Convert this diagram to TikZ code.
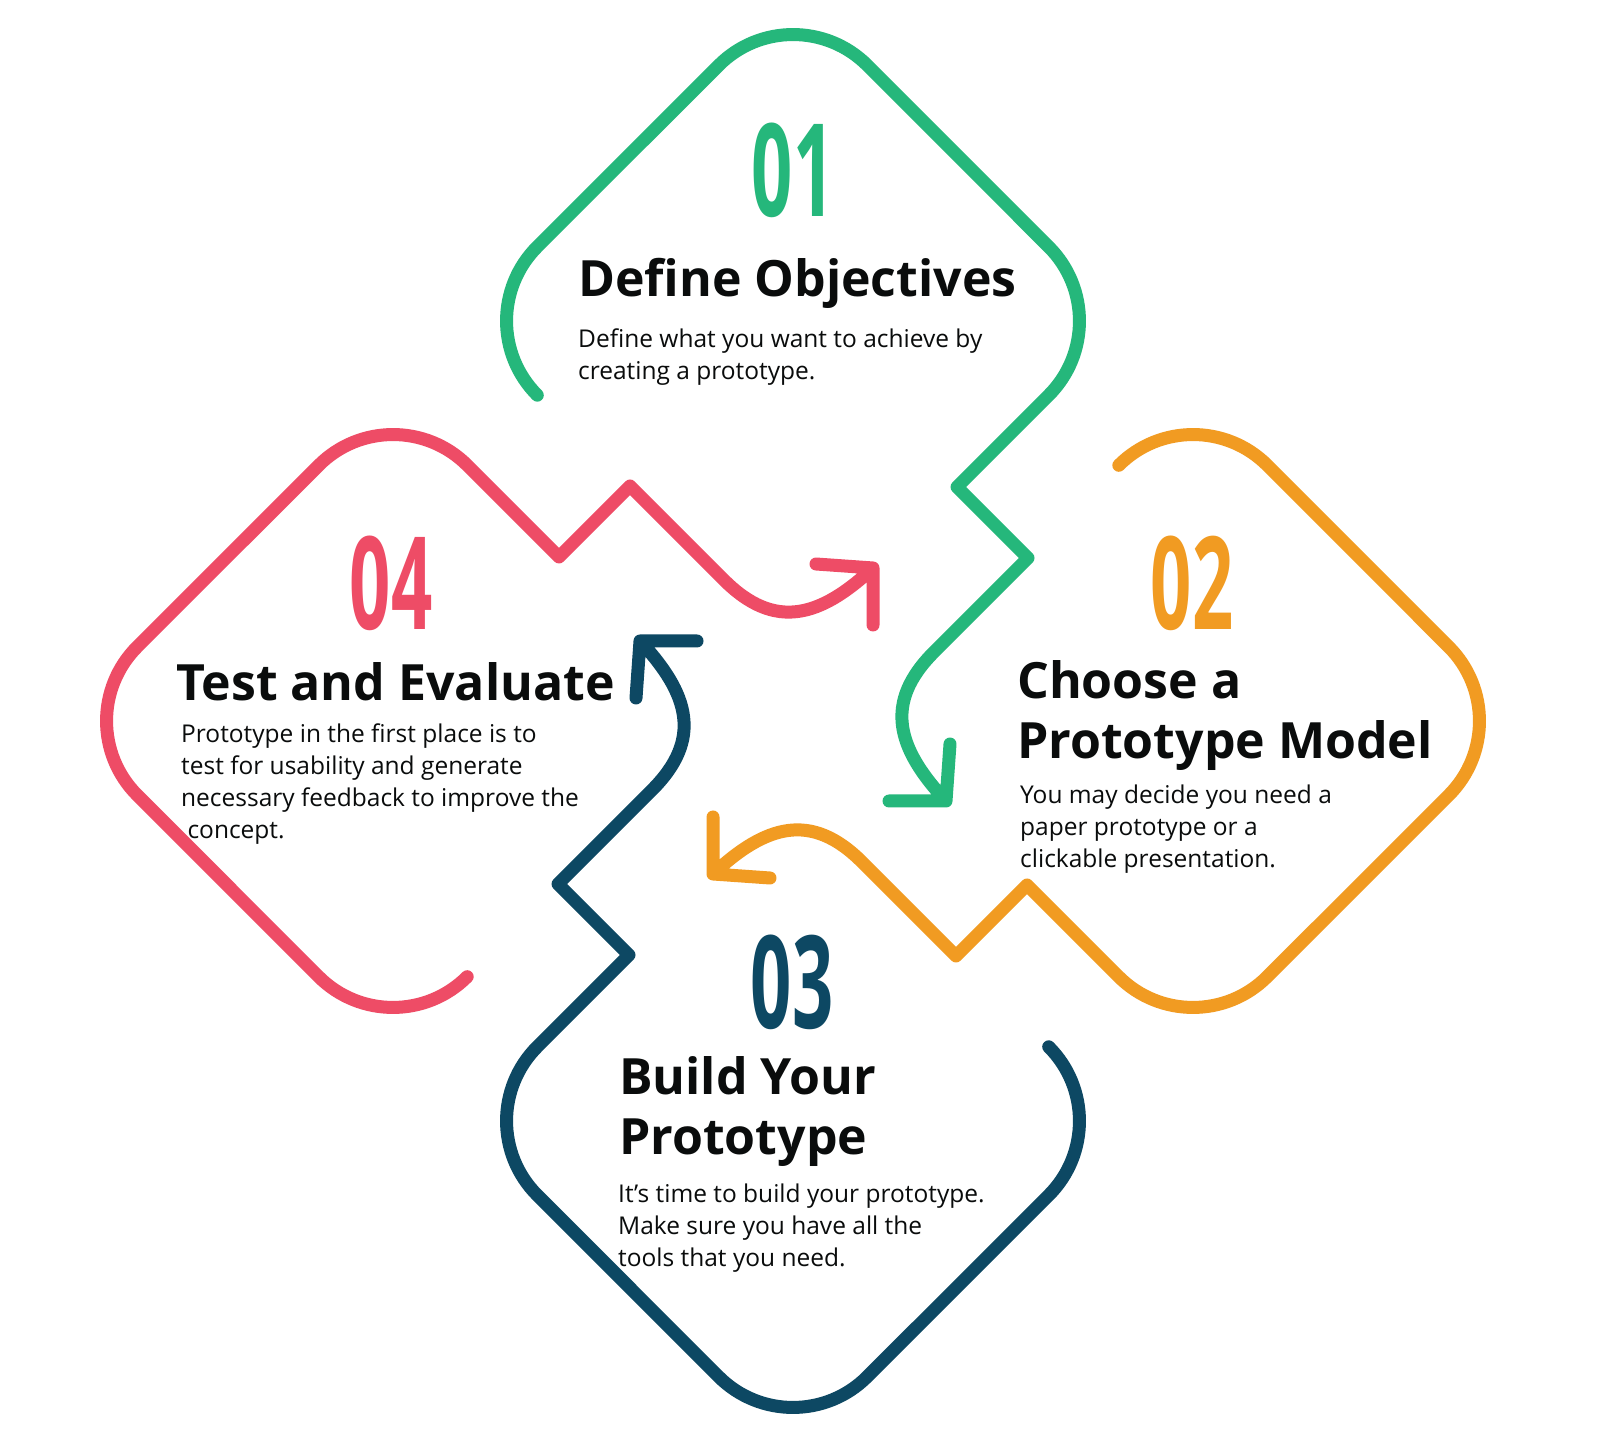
\documentclass[tikz,border=0pt]{standalone}
\usepackage{fontspec}
\setmainfont{Open Sans}
\newfontfamily\numfont[FakeStretch=0.56]{Open Sans}
\usepackage{tikz}
\usetikzlibrary{positioning}
\usepackage{xcolor}
\definecolor{ptgreen}{RGB}{37,183,123}
\definecolor{ptorange}{RGB}{241,155,34}
\definecolor{ptblue}{RGB}{13,72,99}
\definecolor{ptred}{RGB}{238,76,102}
\definecolor{pttext}{RGB}{10,12,12}
\tikzstyle{loopline} = [line width=13, line cap=round, line join=round]
\tikzstyle{stepnum} = [inner sep=0, anchor=center, font={\numfont\bfseries\fontsize{129}{129}\selectfont}]
\tikzstyle{steptitle} = [inner sep=0, anchor=north west, align=left, text=pttext, font={\bfseries\fontsize{50}{60}\selectfont}]
\tikzstyle{stepbody} = [inner sep=0, anchor=north west, align=left, text=pttext, font={\fontsize{24.5}{32}\selectfont}]
% one rounded loop with its zigzag and arrow: centre, rotation, colour
\newcommand{\loopshape}[3]{%
\draw[loopline, #3, shift={#1}, rotate=#2]
  (-255.7,-74.2) arc[start angle=225, end angle=135, radius=105]
  -- (-74.2,255.7) arc[start angle=135, end angle=45, radius=105]
  -- (255.7,74.2) arc[start angle=45, end angle=-45, radius=105]
  -- (164,-166) -- (235,-237) -- (141,-331)
  .. controls +(225:72) and +(133:72) .. (153,-480)
  -- (96,-480) (157,-423) -- (153,-480);
}

\begin{document}
\begin{tikzpicture}[x=1pt, y=1pt]
\useasboundingbox (0,0) rectangle (1600,1449);
\fill[white] (0,0) rectangle (1600,1449);

% Loops
\loopshape{(793,1128)}{0}{ptgreen}
\loopshape{(1193,728)}{-90}{ptorange}
\loopshape{(793,328)}{-180}{ptblue}
\loopshape{(393,728)}{90}{ptred}

% Step 01
\node (num1) [stepnum, text=ptgreen] at (793,1279) {01};
\node (title1) [steptitle] at (578,1191) {Define Objectives};
\node (body1) [stepbody] at (578,1120.6) {Define what you want to achieve by\\creating a prototype.};

% Step 02
\node (num2) [stepnum, text=ptorange] at (1192,865.5) {02};
\node (title2) [steptitle] at (1017,789) {Choose a\\Prototype Model};
\node (body2) [stepbody] at (1020,664.5) {You may decide you need a\\paper prototype or a\\clickable presentation.};

% Step 03
\node (num3) [stepnum, text=ptblue] at (792,467) {03};
\node (title3) [steptitle] at (619,393) {Build Your\\Prototype};
\node (body3) [stepbody] at (618,265.6) {It’s time to build your prototype.\\Make sure you have all the\\tools that you need.};

% Step 04
\node (num4) [stepnum, text=ptred] at (391,865.5) {04};
\node (title4) [steptitle] at (176,787) {Test and Evaluate};
\node (body4) [stepbody] at (181,725) {Prototype in the first place is to\\test for usability and generate\\necessary feedback to improve the\\\ concept.};
\end{tikzpicture}
\end{document}
